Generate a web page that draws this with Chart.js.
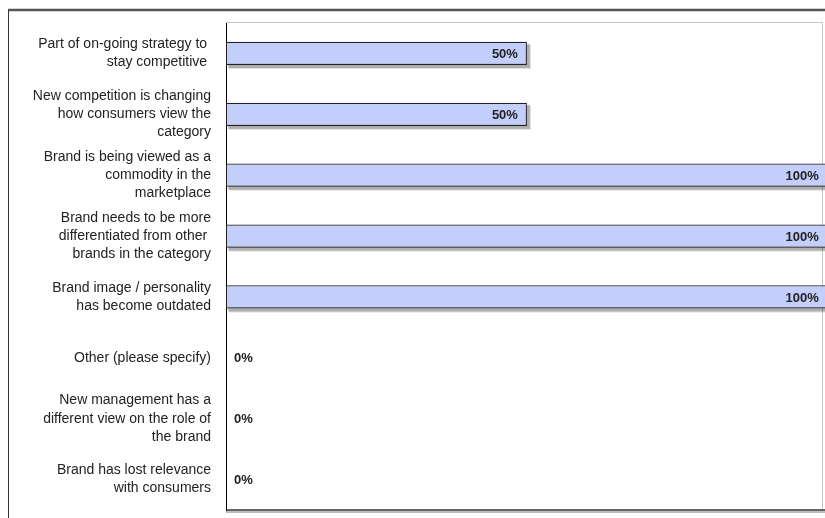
<!DOCTYPE html>
<html>
<head>
<meta charset="utf-8">
<script src="https://cdn.jsdelivr.net/npm/chart.js@4/dist/chart.umd.min.js"></script>
<style>
  body { margin: 0; background: #fff; }
  canvas { display: block; }
</style>
</head>
<body>
<canvas id="barChart" width="825" height="518"></canvas>
<script>
var categories = [
    ["Part of on-going strategy to ", "stay competitive "],
    ["New competition is changing", "how consumers view the", "category"],
    ["Brand is being viewed as a", "commodity in the", "marketplace"],
    ["Brand needs to be more", "differentiated from other ", "brands in the category"],
    ["Brand image / personality", "has become outdated"],
    "Other (please specify)",
    ["New management has a", "different view on the role of", "the brand"],
    ["Brand has lost relevance", "with consumers"]
];
var percents = [50, 50, 100, 100, 100, 0, 0, 0];

// outer frame + plot box, bar shadow, value labels
var framePlugin = {
    id: 'frame',
    beforeDraw: function(chart) {
        var c = chart.ctx, a = chart.chartArea;
        c.save();
        c.strokeStyle = '#555';
        c.lineWidth = 2.5;
        c.beginPath();
        c.moveTo(8, 10); c.lineTo(825, 10);
        c.stroke();
        c.lineWidth = 1;
        c.strokeStyle = '#333';
        c.beginPath();
        c.moveTo(8.5, 10); c.lineTo(8.5, 518);
        c.stroke();
        c.strokeStyle = '#c8c8c8';
        c.beginPath();
        c.moveTo(a.left, a.top - 0.5); c.lineTo(a.right - 0.5, a.top - 0.5); c.lineTo(a.right - 0.5, a.bottom);
        c.stroke();
        c.strokeStyle = '#bbb';
        c.lineWidth = 2;
        c.beginPath();
        c.moveTo(a.left, a.bottom + 2); c.lineTo(825, a.bottom + 2);
        c.stroke();
        c.strokeStyle = '#333';
        c.lineWidth = 1.5;
        c.beginPath();
        c.moveTo(a.left, a.bottom); c.lineTo(825, a.bottom);
        c.stroke();
        c.restore();
    },
    beforeDatasetsDraw: function(chart) {
        // soft drop shadow behind each bar
        var c = chart.ctx;
        var meta = chart.getDatasetMeta(0);
        c.save();
        meta.data.forEach(function(bar, i) {
            if (percents[i] <= 0) return;
            var h = bar.height;
            c.fillStyle = 'rgba(0,0,0,0.22)';
            c.fillRect(bar.base + 2, bar.y - h / 2 + 2, bar.x - bar.base + 1, h + 1);
            c.fillStyle = 'rgba(0,0,0,0.12)';
            c.fillRect(bar.base + 3, bar.y - h / 2 + 3, bar.x - bar.base + 1, h + 1);
        });
        c.restore();
    },
    afterDatasetsDraw: function(chart) {
        var c = chart.ctx;
        var meta = chart.getDatasetMeta(0);
        c.save();
        c.font = 'bold 13px "Liberation Sans", Arial, sans-serif';
        c.fillStyle = '#222';
        c.textBaseline = 'middle';
        meta.data.forEach(function(bar, i) {
            var v = percents[i];
            if (v > 0) {
                c.textAlign = 'right';
                c.fillText(v + '%', bar.x - 9, bar.y + 1);
            } else {
                c.textAlign = 'left';
                c.fillText(v + '%', bar.base + 8, bar.y + 1);
            }
        });
        c.restore();
    }
};

var myBarChart = new Chart(document.getElementById("barChart"), {
    type: 'bar',
    data: {
        labels: categories,
        datasets: [{
            data: percents,
            backgroundColor: '#c3cefa',
            borderColor: '#222',
            borderWidth: 1.2,
            borderSkipped: false,
            categoryPercentage: 1,
            barPercentage: 0.38,
            clip: false
        }]
    },
    plugins: [framePlugin],
    options: {
        indexAxis: 'y',
        responsive: false,
        animation: false,
        layout: { padding: { top: 23, bottom: 8, right: 2, left: 0 } },
        plugins: {
            legend: { display: false },
            tooltip: { enabled: false }
        },
        scales: {
            x: {
                display: false,
                min: 0,
                max: 99.2
            },
            y: {
                afterFit: function(scale) {
                    scale.width = 226;
                    scale.paddingTop = 0;
                    scale.paddingBottom = 0;
                },
                grid: { display: false, drawTicks: false },
                border: { display: true, color: '#000', width: 1 },
                ticks: {
                    padding: 15,
                    color: '#222',
                    font: { family: '"Liberation Sans", Arial, sans-serif', size: 14, lineHeight: 1.29 }
                }
            }
        }
    }
});
</script>
</body>
</html>
